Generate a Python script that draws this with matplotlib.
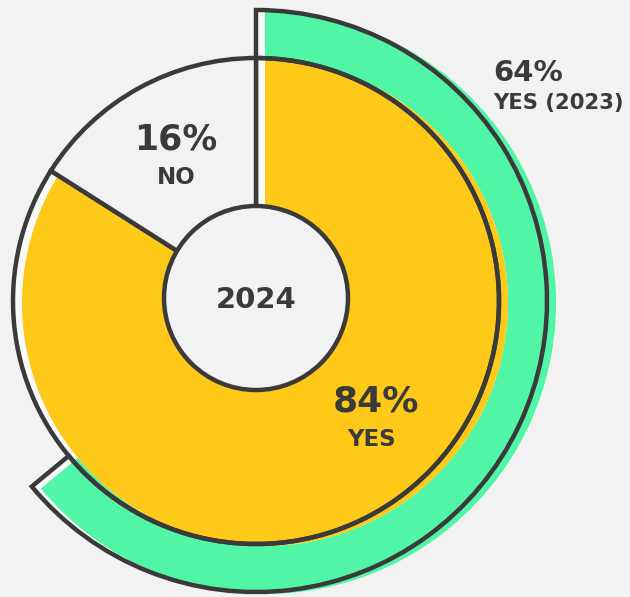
import matplotlib.pyplot as plt
from matplotlib.patches import Wedge, Circle

# survey shares (percent)
yes_2024 = 84
no_2024 = 16
yes_2023 = 64
year_center = "2024"

BG = "#f2f2f2"
UNDER = "#fafafa"
YELLOW = "#fec918"
GREEN = "#50f5a5"
DARK = "#3a3a3a"

plt.rcParams['font.family'] = ['DejaVu Sans']

fig = plt.figure(figsize=(6.3, 5.97), dpi=100, facecolor=BG)
ax = fig.add_axes([0, 0, 1, 1])
ax.set_xlim(0, 630)
ax.set_ylim(0, 597)
ax.set_aspect('equal')
ax.axis('off')

cx, cy = 256, 296
r_hole, r_pie, r_ring = 92, 243, 291
dx, dy = 9, -2          # colour fill sits a bit to the right of its outline
lw = 3.2

# angles: start at 12 o'clock, YES runs clockwise
yes24_start = 90 - 360 * yes_2024 / 100
yes23_start = 90 - 360 * yes_2023 / 100
no24_end = 90 + 360 * no_2024 / 100

# light underlay under the outlines
ax.add_patch(Wedge((cx, cy), r_ring, yes23_start, 90, width=r_ring - r_pie,
                   facecolor=UNDER, edgecolor='none', zorder=1))
ax.add_patch(Wedge((cx, cy), r_pie, yes24_start, 90,
                   facecolor=UNDER, edgecolor='none', zorder=1))

# shifted colour fills
ax.add_patch(Wedge((cx + dx, cy + dy), r_ring, yes23_start, 90, width=r_ring - r_pie,
                   facecolor=GREEN, edgecolor='none', zorder=2))
ax.add_patch(Wedge((cx + dx, cy + dy), r_pie, yes24_start, 90,
                   facecolor=YELLOW, edgecolor='none', zorder=2))

# outlines
ax.add_patch(Wedge((cx, cy), r_ring, yes23_start, 90, width=r_ring - r_pie,
                   facecolor='none', edgecolor=DARK, lw=lw, zorder=3,
                   joinstyle='miter'))
ax.add_patch(Wedge((cx, cy), r_pie, yes24_start, 90,
                   facecolor='none', edgecolor=DARK, lw=lw, zorder=3,
                   joinstyle='miter'))
ax.add_patch(Wedge((cx, cy), r_pie, 90, no24_end,
                   facecolor=BG, edgecolor=DARK, lw=lw, zorder=4,
                   joinstyle='miter'))
ax.add_patch(Circle((cx, cy + 3), r_hole, facecolor=BG, edgecolor=DARK,
                    lw=lw, zorder=5))

# labels
txt = dict(ha='center', va='center', fontweight='bold', color=DARK, zorder=6)
ax.text(176, 457, f"{no_2024}%", fontsize=25, **txt)
ax.text(176, 420, "NO", fontsize=16.5, **txt)
ax.text(cx, 297, year_center, fontsize=21, **txt)
ax.text(376, 196, f"{yes_2024}%", fontsize=26, **txt)
ax.text(372, 157, "YES", fontsize=16.5, **txt)
txt['ha'] = 'left'
ax.text(493, 524, f"{yes_2023}%", fontsize=21, **txt)
ax.text(493, 494, "YES (2023)", fontsize=15.2, **txt)

fig.savefig("out.png", dpi=100, facecolor=BG)
